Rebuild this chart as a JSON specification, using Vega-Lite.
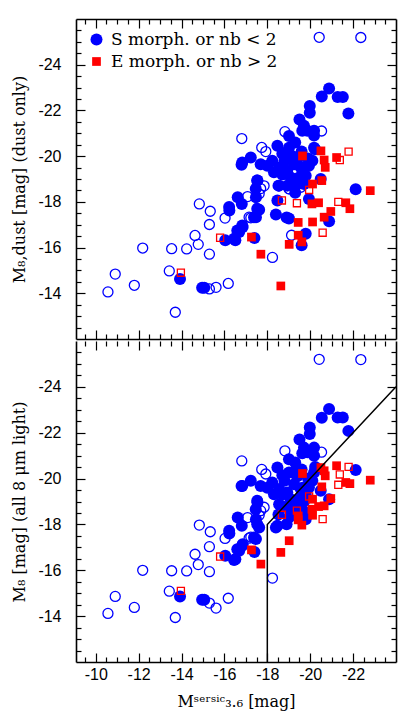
{
  "$schema": "https://vega.github.io/schema/vega-lite/v6.json",
  "background": "white",
  "padding": {"left": 11, "top": 18, "right": 5, "bottom": 5},
  "spacing": 0,
  "config": {
    "view": {"stroke": null},
    "axis": {"grid": false, "labelFont": "Liberation Sans", "labelFontSize": 16, "labelColor": "black", "titleFont": "DejaVu Serif", "titleFontSize": 16, "titleFontWeight": "normal", "titleColor": "black", "tickColor": "black", "tickWidth": 1.2, "domainColor": "black", "domainWidth": 1.6, "labelOverlap": false, "labelFlush": false}
  },
  "datasets": {
    "pts": [
      {"x": -20.88, "yd": -22.96, "ya": -23.03, "g": "S", "f": "filled"},
      {"x": -20.54, "yd": -22.61, "ya": -22.65, "g": "S", "f": "filled"},
      {"x": -21.28, "yd": -22.59, "ya": -22.66, "g": "S", "f": "filled"},
      {"x": -21.52, "yd": -22.59, "ya": -22.66, "g": "S", "f": "filled"},
      {"x": -21.78, "yd": -21.87, "ya": -22.08, "g": "S", "f": "filled"},
      {"x": -19.98, "yd": -22.19, "ya": -22.23, "g": "S", "f": "filled"},
      {"x": -19.98, "yd": -21.9, "ya": -21.94, "g": "S", "f": "filled"},
      {"x": -19.71, "yd": -21.33, "ya": -21.35, "g": "S", "f": "filled"},
      {"x": -19.87, "yd": -21.11, "ya": -21.15, "g": "S", "f": "filled"},
      {"x": -20.18, "yd": -21.11, "ya": -21.35, "g": "S", "f": "filled"},
      {"x": -20.18, "yd": -20.9, "ya": -21.0, "g": "S", "f": "filled"},
      {"x": -19.63, "yd": -21.11, "ya": -21.1, "g": "S", "f": "filled"},
      {"x": -20.23, "yd": -20.3, "ya": -20.5, "g": "S", "f": "filled"},
      {"x": -19.01, "yd": -20.88, "ya": -20.84, "g": "S", "f": "filled"},
      {"x": -18.47, "yd": -20.45, "ya": -20.48, "g": "S", "f": "filled"},
      {"x": -19.01, "yd": -20.37, "ya": -20.26, "g": "S", "f": "filled"},
      {"x": -20.18, "yd": -20.37, "ya": -20.26, "g": "S", "f": "filled"},
      {"x": -16.83, "yd": -19.72, "ya": -19.68, "g": "S", "f": "filled"},
      {"x": -17.23, "yd": -19.94, "ya": -19.9, "g": "S", "f": "filled"},
      {"x": -17.69, "yd": -19.65, "ya": -19.68, "g": "S", "f": "filled"},
      {"x": -18.0, "yd": -19.58, "ya": -19.6, "g": "S", "f": "filled"},
      {"x": -18.23, "yd": -19.8, "ya": -19.83, "g": "S", "f": "filled"},
      {"x": -18.55, "yd": -19.5, "ya": -19.54, "g": "S", "f": "filled"},
      {"x": -18.31, "yd": -19.29, "ya": -19.32, "g": "S", "f": "filled"},
      {"x": -18.93, "yd": -19.36, "ya": -19.39, "g": "S", "f": "filled"},
      {"x": -19.25, "yd": -19.65, "ya": -19.75, "g": "S", "f": "filled"},
      {"x": -19.56, "yd": -19.5, "ya": -19.54, "g": "S", "f": "filled"},
      {"x": -19.94, "yd": -19.58, "ya": -19.61, "g": "S", "f": "filled"},
      {"x": -19.09, "yd": -19.07, "ya": -19.1, "g": "S", "f": "filled"},
      {"x": -19.48, "yd": -19.07, "ya": -19.1, "g": "S", "f": "filled"},
      {"x": -19.79, "yd": -19.14, "ya": -19.3, "g": "S", "f": "filled"},
      {"x": -18.93, "yd": -18.71, "ya": -18.74, "g": "S", "f": "filled"},
      {"x": -19.32, "yd": -18.71, "ya": -18.9, "g": "S", "f": "filled"},
      {"x": -19.71, "yd": -18.78, "ya": -19.0, "g": "S", "f": "filled"},
      {"x": -18.55, "yd": -18.71, "ya": -18.88, "g": "S", "f": "filled"},
      {"x": -17.53, "yd": -18.93, "ya": -19.03, "g": "S", "f": "filled"},
      {"x": -17.46, "yd": -18.57, "ya": -18.66, "g": "S", "f": "filled"},
      {"x": -18.47, "yd": -18.06, "ya": -17.94, "g": "S", "f": "filled"},
      {"x": -19.94, "yd": -18.13, "ya": -18.52, "g": "S", "f": "filled"},
      {"x": -18.4, "yd": -17.45, "ya": -17.87, "g": "S", "f": "filled"},
      {"x": -18.9, "yd": -17.32, "ya": -18.01, "g": "S", "f": "filled"},
      {"x": -17.53, "yd": -17.7, "ya": -18.01, "g": "S", "f": "filled"},
      {"x": -17.38, "yd": -17.33, "ya": -17.43, "g": "S", "f": "filled"},
      {"x": -16.83, "yd": -16.97, "ya": -17.07, "g": "S", "f": "filled"},
      {"x": -16.6, "yd": -16.75, "ya": -16.92, "g": "S", "f": "filled"},
      {"x": -16.45, "yd": -16.39, "ya": -16.45, "g": "S", "f": "filled"},
      {"x": -17.4, "yd": -16.42, "ya": -16.8, "g": "S", "f": "filled"},
      {"x": -16.22, "yd": -17.77, "ya": -17.72, "g": "S", "f": "filled"},
      {"x": -19.79, "yd": -16.6, "ya": -18.23, "g": "S", "f": "filled"},
      {"x": -19.6, "yd": -16.1, "ya": -18.66, "g": "S", "f": "filled"},
      {"x": -20.49, "yd": -19.0, "ya": -19.47, "g": "S", "f": "filled"},
      {"x": -20.88, "yd": -17.15, "ya": -19.1, "g": "S", "f": "filled"},
      {"x": -22.12, "yd": -18.55, "ya": -20.37, "g": "S", "f": "filled"},
      {"x": -19.01, "yd": -17.27, "ya": -18.3, "g": "S", "f": "filled"},
      {"x": -13.93, "yd": -14.63, "ya": -14.86, "g": "S", "f": "filled"},
      {"x": -14.96, "yd": -14.24, "ya": -14.71, "g": "S", "f": "filled"},
      {"x": -15.06, "yd": -14.24, "ya": -14.71, "g": "S", "f": "filled"},
      {"x": -16.23, "yd": -17.62, "ya": -17.6, "g": "S", "f": "filled"},
      {"x": -16.62, "yd": -18.2, "ya": -18.3, "g": "S", "f": "filled"},
      {"x": -16.8, "yd": -19.62, "ya": -19.68, "g": "S", "f": "filled"},
      {"x": -16.04, "yd": -16.32, "ya": -16.63, "g": "S", "f": "filled"},
      {"x": -16.51, "yd": -16.32, "ya": -16.48, "g": "S", "f": "filled"},
      {"x": -16.69, "yd": -16.68, "ya": -16.85, "g": "S", "f": "filled"},
      {"x": -16.85, "yd": -16.9, "ya": -17.14, "g": "S", "f": "filled"},
      {"x": -17.47, "yd": -18.2, "ya": -18.23, "g": "S", "f": "filled"},
      {"x": -17.62, "yd": -17.65, "ya": -17.87, "g": "S", "f": "filled"},
      {"x": -17.47, "yd": -17.33, "ya": -17.36, "g": "S", "f": "filled"},
      {"x": -17.54, "yd": -18.93, "ya": -18.96, "g": "S", "f": "filled"},
      {"x": -16.81, "yd": -17.91, "ya": -17.94, "g": "S", "f": "filled"},
      {"x": -18.52, "yd": -18.71, "ya": -18.43, "g": "S", "f": "filled"},
      {"x": -19.17, "yd": -20.0, "ya": -20.26, "g": "S", "f": "filled"},
      {"x": -19.4, "yd": -19.9, "ya": -20.1, "g": "S", "f": "filled"},
      {"x": -19.6, "yd": -20.2, "ya": -20.4, "g": "S", "f": "filled"},
      {"x": -18.7, "yd": -20.1, "ya": -20.15, "g": "S", "f": "filled"},
      {"x": -19.3, "yd": -18.4, "ya": -18.52, "g": "S", "f": "filled"},
      {"x": -20.1, "yd": -19.8, "ya": -19.9, "g": "S", "f": "filled"},
      {"x": -19.64, "yd": -19.51, "ya": -19.6, "g": "S", "f": "filled"},
      {"x": -19.3, "yd": -20.6, "ya": -20.7, "g": "S", "f": "filled"},
      {"x": -19.5, "yd": -21.6, "ya": -21.7, "g": "S", "f": "filled"},
      {"x": -18.8, "yd": -19.8, "ya": -19.9, "g": "S", "f": "filled"},
      {"x": -19.9, "yd": -19.9, "ya": -20.0, "g": "S", "f": "filled"},
      {"x": -18.7, "yd": -19.2, "ya": -19.3, "g": "S", "f": "filled"},
      {"x": -20.42, "yd": -25.2, "ya": -25.2, "g": "S", "f": "open"},
      {"x": -22.36, "yd": -25.19, "ya": -25.19, "g": "S", "f": "open"},
      {"x": -16.81, "yd": -20.77, "ya": -20.77, "g": "S", "f": "open"},
      {"x": -17.74, "yd": -20.38, "ya": -20.4, "g": "S", "f": "open"},
      {"x": -17.93, "yd": -20.2, "ya": -20.2, "g": "S", "f": "open"},
      {"x": -18.82, "yd": -21.07, "ya": -21.21, "g": "S", "f": "open"},
      {"x": -20.53, "yd": -21.1, "ya": -21.15, "g": "S", "f": "open"},
      {"x": -14.83, "yd": -17.91, "ya": -17.97, "g": "S", "f": "open"},
      {"x": -15.34, "yd": -17.59, "ya": -17.68, "g": "S", "f": "open"},
      {"x": -15.3, "yd": -17.01, "ya": -17.03, "g": "S", "f": "open"},
      {"x": -16.03, "yd": -17.29, "ya": -17.39, "g": "S", "f": "open"},
      {"x": -14.63, "yd": -16.53, "ya": -16.7, "g": "S", "f": "open"},
      {"x": -14.78, "yd": -16.14, "ya": -16.25, "g": "S", "f": "open"},
      {"x": -15.3, "yd": -15.71, "ya": -15.94, "g": "S", "f": "open"},
      {"x": -14.24, "yd": -15.94, "ya": -15.97, "g": "S", "f": "open"},
      {"x": -13.54, "yd": -15.95, "ya": -15.98, "g": "S", "f": "open"},
      {"x": -12.19, "yd": -15.98, "ya": -16.0, "g": "S", "f": "open"},
      {"x": -13.43, "yd": -14.98, "ya": -15.09, "g": "S", "f": "open"},
      {"x": -10.91, "yd": -14.84, "ya": -14.86, "g": "S", "f": "open"},
      {"x": -11.8, "yd": -14.35, "ya": -14.38, "g": "S", "f": "open"},
      {"x": -10.57, "yd": -14.06, "ya": -14.12, "g": "S", "f": "open"},
      {"x": -15.3, "yd": -14.19, "ya": -14.57, "g": "S", "f": "open"},
      {"x": -15.61, "yd": -14.26, "ya": -14.35, "g": "S", "f": "open"},
      {"x": -16.18, "yd": -14.43, "ya": -14.78, "g": "S", "f": "open"},
      {"x": -13.71, "yd": -13.17, "ya": -13.94, "g": "S", "f": "open"},
      {"x": -18.24, "yd": -15.57, "ya": -15.66, "g": "S", "f": "open"},
      {"x": -19.13, "yd": -16.54, "ya": -18.6, "g": "S", "f": "open"},
      {"x": -17.08, "yd": -18.23, "ya": -18.3, "g": "S", "f": "open"},
      {"x": -17.23, "yd": -17.3, "ya": -17.45, "g": "S", "f": "open"},
      {"x": -17.62, "yd": -18.35, "ya": -18.4, "g": "S", "f": "open"},
      {"x": -17.85, "yd": -18.7, "ya": -18.75, "g": "S", "f": "open"},
      {"x": -17.69, "yd": -18.58, "ya": -18.6, "g": "S", "f": "open"},
      {"x": -19.02, "yd": -18.57, "ya": -18.9, "g": "S", "f": "open"},
      {"x": -19.56, "yd": -18.64, "ya": -18.8, "g": "S", "f": "open"},
      {"x": -19.01, "yd": -18.57, "ya": -18.7, "g": "S", "f": "open"},
      {"x": -17.15, "yd": -17.33, "ya": -17.4, "g": "S", "f": "open"},
      {"x": -19.64, "yd": -20.01, "ya": -20.22, "g": "E", "f": "filled"},
      {"x": -20.5, "yd": -20.23, "ya": -20.48, "g": "E", "f": "filled"},
      {"x": -20.65, "yd": -19.83, "ya": -20.34, "g": "E", "f": "filled"},
      {"x": -20.7, "yd": -19.51, "ya": -20.12, "g": "E", "f": "filled"},
      {"x": -21.23, "yd": -19.94, "ya": -20.56, "g": "E", "f": "filled"},
      {"x": -20.11, "yd": -18.78, "ya": -19.1, "g": "E", "f": "filled"},
      {"x": -20.54, "yd": -18.93, "ya": -19.64, "g": "E", "f": "filled"},
      {"x": -20.08, "yd": -17.91, "ya": -18.66, "g": "E", "f": "filled"},
      {"x": -20.39, "yd": -17.96, "ya": -18.78, "g": "E", "f": "filled"},
      {"x": -21.66, "yd": -17.96, "ya": -19.83, "g": "E", "f": "filled"},
      {"x": -21.85, "yd": -17.7, "ya": -19.78, "g": "E", "f": "filled"},
      {"x": -20.96, "yd": -17.58, "ya": -19.13, "g": "E", "f": "filled"},
      {"x": -20.65, "yd": -17.33, "ya": -18.81, "g": "E", "f": "filled"},
      {"x": -20.11, "yd": -17.12, "ya": -18.4, "g": "E", "f": "filled"},
      {"x": -19.44, "yd": -17.1, "ya": -18.37, "g": "E", "f": "filled"},
      {"x": -19.44, "yd": -16.54, "ya": -18.2, "g": "E", "f": "filled"},
      {"x": -19.02, "yd": -16.14, "ya": -17.29, "g": "E", "f": "filled"},
      {"x": -19.61, "yd": -16.25, "ya": -17.97, "g": "E", "f": "filled"},
      {"x": -17.7, "yd": -15.71, "ya": -16.27, "g": "E", "f": "filled"},
      {"x": -18.63, "yd": -14.32, "ya": -16.78, "g": "E", "f": "filled"},
      {"x": -17.26, "yd": -16.46, "ya": -16.89, "g": "E", "f": "filled"},
      {"x": -22.8, "yd": -18.49, "ya": -19.93, "g": "E", "f": "filled"},
      {"x": -21.79, "yd": -20.2, "ya": -20.51, "g": "E", "f": "open"},
      {"x": -21.38, "yd": -19.83, "ya": -20.18, "g": "E", "f": "open"},
      {"x": -21.31, "yd": -18.0, "ya": -19.73, "g": "E", "f": "open"},
      {"x": -19.95, "yd": -18.52, "ya": -19.22, "g": "E", "f": "open"},
      {"x": -18.68, "yd": -18.06, "ya": -18.42, "g": "E", "f": "open"},
      {"x": -19.38, "yd": -17.94, "ya": -18.6, "g": "E", "f": "open"},
      {"x": -20.58, "yd": -16.65, "ya": -18.23, "g": "E", "f": "open"},
      {"x": -15.8, "yd": -16.43, "ya": -16.6, "g": "E", "f": "open"},
      {"x": -13.97, "yd": -14.9, "ya": -15.1, "g": "E", "f": "open"}
    ],
    "sep": [
      {"x": -18, "y": -12, "o": 0},
      {"x": -18, "y": -18, "o": 1},
      {"x": -24, "y": -24, "o": 2}
    ]
  },
  "vconcat": [
    {
      "width": 320,
      "height": 320,
      "resolve": {"axis": {"x": "independent", "y": "independent"}},
      "layer": [
        {
          "data": {"name": "pts"},
          "transform": [{"filter": "datum.g == 'S' && datum.f == 'filled'"}],
          "mark": {"type": "point", "filled": true, "opacity": 1},
          "encoding": {
            "x": {"field": "x", "type": "quantitative", "scale": {"domain": [-24, -9.08], "reverse": true, "nice": false, "zero": false}, "axis": {"orient": "bottom", "values": [-10, -12, -14, -16, -18, -20, -22], "tickSize": -9, "labels": false, "title": null, "domain": true}},
            "y": {"field": "yd", "type": "quantitative", "scale": {"domain": [-26, -12], "reverse": true, "nice": false, "zero": false}, "axis": {"orient": "left", "values": [-24, -22, -20, -18, -16, -14], "tickSize": -9, "labelExpr": "'' + datum.value", "labelPadding": 24, "title": "M₈,dust [mag] (dust only)", "titlePadding": 10, "domain": true}},
            "color": {"field": "g", "type": "nominal", "scale": {"domain": ["S", "E"], "range": ["#0000ff", "#ff0000"]}, "legend": {"title": null, "orient": "top-left", "offset": 12, "padding": 0, "rowPadding": 4, "labelOffset": 6, "labelFont": "DejaVu Serif", "labelFontSize": 17, "labelLimit": 400, "labelExpr": "datum.value == 'S' ? 'S morph. or nb < 2' : 'E morph. or nb > 2'", "encode": {"labels": {"update": {"fill": {"signal": "datum.value == 'S' ? '#0000ff' : '#ff0000'"}}}}}},
            "shape": {"field": "g", "type": "nominal", "scale": {"domain": ["S", "E"], "range": ["circle", "square"]}, "legend": {"title": null, "orient": "top-left", "offset": 12, "padding": 0, "rowPadding": 4, "labelOffset": 6, "labelFont": "DejaVu Serif", "labelFontSize": 17, "labelLimit": 400, "labelExpr": "datum.value == 'S' ? 'S morph. or nb < 2' : 'E morph. or nb > 2'", "encode": {"labels": {"update": {"fill": {"signal": "datum.value == 'S' ? '#0000ff' : '#ff0000'"}}}}}},
            "size": {"field": "g", "type": "nominal", "scale": {"domain": ["S", "E"], "range": [144, 76]}, "legend": {"title": null, "orient": "top-left", "offset": 12, "padding": 0, "rowPadding": 4, "labelOffset": 6, "labelFont": "DejaVu Serif", "labelFontSize": 17, "labelLimit": 400, "labelExpr": "datum.value == 'S' ? 'S morph. or nb < 2' : 'E morph. or nb > 2'", "encode": {"labels": {"update": {"fill": {"signal": "datum.value == 'S' ? '#0000ff' : '#ff0000'"}}}}}}
          }
        },
        {
          "data": {"name": "pts"},
          "transform": [{"filter": "datum.g == 'S' && datum.f == 'open'"}],
          "mark": {"type": "point", "filled": false, "shape": "circle", "size": 100, "strokeWidth": 1.3, "color": "#0000ff", "opacity": 1},
          "encoding": {
            "x": {"field": "x", "type": "quantitative", "scale": {"domain": [-24, -9.08], "reverse": true, "nice": false, "zero": false}, "axis": {"orient": "top", "values": [-10, -12, -14, -16, -18, -20, -22], "tickSize": -9, "labels": false, "title": null, "domain": true}},
            "y": {"field": "yd", "type": "quantitative", "scale": {"domain": [-26, -12], "reverse": true, "nice": false, "zero": false}, "axis": {"orient": "right", "values": [-24, -22, -20, -18, -16, -14], "tickSize": -9, "labels": false, "title": null, "domain": true}}
          }
        },
        {
          "data": {"name": "pts"},
          "transform": [{"filter": "datum.g == 'E' && datum.f == 'filled'"}],
          "mark": {"type": "point", "filled": true, "opacity": 1},
          "encoding": {
            "x": {"field": "x", "type": "quantitative", "scale": {"domain": [-24, -9.08], "reverse": true, "nice": false, "zero": false}, "axis": {"orient": "bottom", "values": [-9.5, -10.5, -11, -11.5, -12.5, -13, -13.5, -14.5, -15, -15.5, -16.5, -17, -17.5, -18.5, -19, -19.5, -20.5, -21, -21.5, -22.5, -23, -23.5], "tickSize": -5, "labels": false, "title": null, "domain": false}},
            "y": {"field": "yd", "type": "quantitative", "scale": {"domain": [-26, -12], "reverse": true, "nice": false, "zero": false}, "axis": {"orient": "left", "values": [-25.5, -25, -24.5, -23.5, -23, -22.5, -21.5, -21, -20.5, -19.5, -19, -18.5, -17.5, -17, -16.5, -15.5, -15, -14.5, -13.5, -13, -12.5], "tickSize": -5, "labels": false, "title": null, "domain": false}},
            "color": {"field": "g", "type": "nominal", "scale": {"domain": ["S", "E"], "range": ["#0000ff", "#ff0000"]}},
            "shape": {"field": "g", "type": "nominal", "scale": {"domain": ["S", "E"], "range": ["circle", "square"]}},
            "size": {"field": "g", "type": "nominal", "scale": {"domain": ["S", "E"], "range": [144, 76]}}
          }
        },
        {
          "data": {"name": "pts"},
          "transform": [{"filter": "datum.g == 'E' && datum.f == 'open'"}],
          "mark": {"type": "point", "filled": false, "shape": "square", "size": 50, "strokeWidth": 1.3, "color": "#ff0000", "opacity": 1},
          "encoding": {
            "x": {"field": "x", "type": "quantitative", "scale": {"domain": [-24, -9.08], "reverse": true, "nice": false, "zero": false}, "axis": {"orient": "top", "values": [-9.5, -10.5, -11, -11.5, -12.5, -13, -13.5, -14.5, -15, -15.5, -16.5, -17, -17.5, -18.5, -19, -19.5, -20.5, -21, -21.5, -22.5, -23, -23.5], "tickSize": -5, "labels": false, "title": null, "domain": false}},
            "y": {"field": "yd", "type": "quantitative", "scale": {"domain": [-26, -12], "reverse": true, "nice": false, "zero": false}, "axis": {"orient": "right", "values": [-25.5, -25, -24.5, -23.5, -23, -22.5, -21.5, -21, -20.5, -19.5, -19, -18.5, -17.5, -17, -16.5, -15.5, -15, -14.5, -13.5, -13, -12.5], "tickSize": -5, "labels": false, "title": null, "domain": false}}
          }
        }
      ]
    },
    {
      "width": 320,
      "height": 321,
      "resolve": {"axis": {"x": "independent", "y": "independent"}},
      "layer": [
        {
          "data": {"name": "pts"},
          "transform": [{"filter": "datum.g == 'S' && datum.f == 'filled'"}],
          "mark": {"type": "point", "filled": true, "opacity": 1, "shape": "circle", "size": 144, "color": "#0000ff"},
          "encoding": {
            "x": {"field": "x", "type": "quantitative", "scale": {"domain": [-24, -9.08], "reverse": true, "nice": false, "zero": false}, "axis": {"orient": "bottom", "values": [-10, -12, -14, -16, -18, -20, -22], "tickSize": -9, "labelExpr": "'' + datum.value", "labelPadding": 13, "title": "Mˢᵉʳˢⁱᶜ₃.₆ [mag]", "titlePadding": 11, "domain": true}},
            "y": {"field": "ya", "type": "quantitative", "scale": {"domain": [-26, -12], "reverse": true, "nice": false, "zero": false}, "axis": {"orient": "left", "values": [-24, -22, -20, -18, -16, -14], "tickSize": -9, "labelExpr": "'' + datum.value", "labelPadding": 24, "title": "M₈ [mag] (all 8 μm light)", "titlePadding": 10, "domain": true}}
          }
        },
        {
          "data": {"name": "pts"},
          "transform": [{"filter": "datum.g == 'S' && datum.f == 'open'"}],
          "mark": {"type": "point", "filled": false, "shape": "circle", "size": 100, "strokeWidth": 1.3, "color": "#0000ff", "opacity": 1},
          "encoding": {
            "x": {"field": "x", "type": "quantitative", "scale": {"domain": [-24, -9.08], "reverse": true, "nice": false, "zero": false}, "axis": {"orient": "top", "values": [-10, -12, -14, -16, -18, -20, -22], "tickSize": -9, "labels": false, "title": null, "domain": false}},
            "y": {"field": "ya", "type": "quantitative", "scale": {"domain": [-26, -12], "reverse": true, "nice": false, "zero": false}, "axis": {"orient": "right", "values": [-24, -22, -20, -18, -16, -14], "tickSize": -9, "labels": false, "title": null, "domain": true}}
          }
        },
        {
          "data": {"name": "pts"},
          "transform": [{"filter": "datum.g == 'E' && datum.f == 'filled'"}],
          "mark": {"type": "point", "filled": true, "opacity": 1, "shape": "square", "size": 76, "color": "#ff0000"},
          "encoding": {
            "x": {"field": "x", "type": "quantitative", "scale": {"domain": [-24, -9.08], "reverse": true, "nice": false, "zero": false}, "axis": {"orient": "bottom", "values": [-9.5, -10.5, -11, -11.5, -12.5, -13, -13.5, -14.5, -15, -15.5, -16.5, -17, -17.5, -18.5, -19, -19.5, -20.5, -21, -21.5, -22.5, -23, -23.5], "tickSize": -5, "labels": false, "title": null, "domain": false}},
            "y": {"field": "ya", "type": "quantitative", "scale": {"domain": [-26, -12], "reverse": true, "nice": false, "zero": false}, "axis": {"orient": "left", "values": [-25.5, -25, -24.5, -23.5, -23, -22.5, -21.5, -21, -20.5, -19.5, -19, -18.5, -17.5, -17, -16.5, -15.5, -15, -14.5, -13.5, -13, -12.5], "tickSize": -5, "labels": false, "title": null, "domain": false}}
          }
        },
        {
          "data": {"name": "pts"},
          "transform": [{"filter": "datum.g == 'E' && datum.f == 'open'"}],
          "mark": {"type": "point", "filled": false, "shape": "square", "size": 50, "strokeWidth": 1.3, "color": "#ff0000", "opacity": 1},
          "encoding": {
            "x": {"field": "x", "type": "quantitative", "scale": {"domain": [-24, -9.08], "reverse": true, "nice": false, "zero": false}, "axis": {"orient": "top", "values": [-9.5, -10.5, -11, -11.5, -12.5, -13, -13.5, -14.5, -15, -15.5, -16.5, -17, -17.5, -18.5, -19, -19.5, -20.5, -21, -21.5, -22.5, -23, -23.5], "tickSize": -5, "labels": false, "title": null, "domain": false}},
            "y": {"field": "ya", "type": "quantitative", "scale": {"domain": [-26, -12], "reverse": true, "nice": false, "zero": false}, "axis": {"orient": "right", "values": [-25.5, -25, -24.5, -23.5, -23, -22.5, -21.5, -21, -20.5, -19.5, -19, -18.5, -17.5, -17, -16.5, -15.5, -15, -14.5, -13.5, -13, -12.5], "tickSize": -5, "labels": false, "title": null, "domain": false}}
          }
        },
        {
          "data": {"name": "sep"},
          "mark": {"type": "line", "color": "black", "strokeWidth": 1.5},
          "encoding": {
            "x": {"field": "x", "type": "quantitative", "scale": {"domain": [-24, -9.08], "reverse": true, "nice": false, "zero": false}, "axis": null},
            "y": {"field": "y", "type": "quantitative", "scale": {"domain": [-26, -12], "reverse": true, "nice": false, "zero": false}, "axis": null},
            "order": {"field": "o", "type": "quantitative"}
          }
        }
      ]
    }
  ]
}
